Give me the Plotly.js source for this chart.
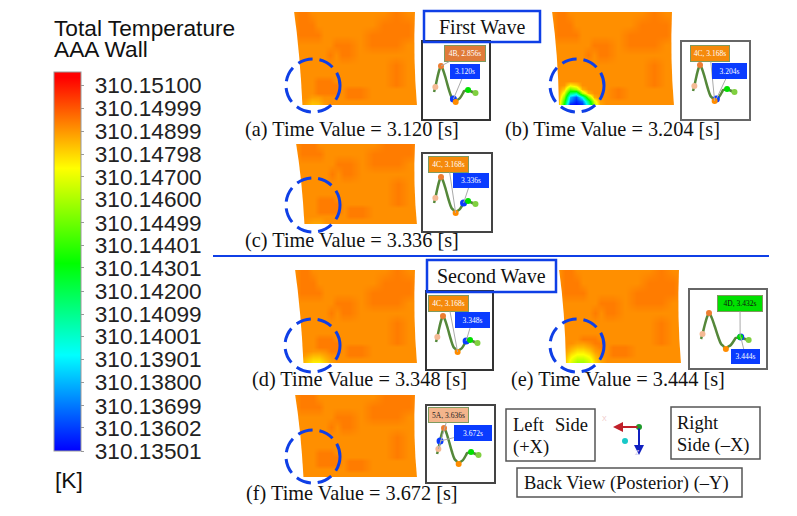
<!DOCTYPE html>
<html>
<head>
<meta charset="utf-8">
<script src="https://cdn.plot.ly/plotly-3.0.1.min.js"></script>
<style>
  html, body { margin: 0; padding: 0; background: #fff; }
  #chart { width: 797px; height: 516px; }
</style>
</head>
<body>
<div id="chart"></div>
<script>
const W = 797, H = 516;
const SERIF = '"Liberation Serif", serif';
const SANS = '"Liberation Sans", sans-serif';

// colour bar
const barTicks = [310.15100, 310.14999, 310.14899, 310.14798, 310.14700, 310.14600, 310.14499, 310.14401,
  310.14301, 310.14200, 310.14099, 310.14001, 310.13901, 310.13800, 310.13699, 310.13602, 310.13501];
const tempMin = 310.13501, tempMax = 310.15157;

// wall temperature, mK above 310 K. rows run bottom to top
const wallX = [0, 6, 12, 18, 24, 30, 36, 42, 48, 54, 66, 78, 90, 102, 114, 124];
const wallY = [0, 4, 8, 12, 16, 20, 24, 30, 40, 50, 60, 70, 80, 94];
const wallBase = [
  [149.1,149.1,149.1,149.1,149.1,149.1,149.1,149.1,149.1,149.1,149.1,149.1,149.1,149.1,149.1,149.1],
  [149.1,149.1,149.1,149.1,149.1,149.1,149.1,149.1,149.1,149.1,149.1,149.1,149.1,149.1,149.1,149.1],
  [149.1,149.1,149.1,149.1,149.1,149.1,149.1,149.1,149.1,149.4,149.4,149.1,149.1,149.1,149.1,149.1],
  [149.1,149.1,149.1,149.1,149.4,149.4,149.4,149.4,149.1,149.4,149.4,149.1,149.1,149.1,149.1,149.1],
  [149.1,149.1,149.1,149.1,149.4,149.4,149.4,149.4,149.1,149.4,149.4,149.1,149.1,149.1,149.1,149.1],
  [149.1,149.1,149.1,149.1,149.4,149.4,149.4,149.4,149.1,149.1,149.1,149.1,149.1,149.4,149.1,149.1],
  [149.1,149.1,149.1,149.1,149.4,149.4,149.4,149.1,149.1,149.1,149.1,149.1,149.1,149.4,149.1,149.1],
  [149.1,149.1,149.1,149.1,149.1,149.1,149.1,149.1,149.1,149.1,149.1,149.1,149.1,149.4,149.1,149.1],
  [149.1,149.1,149.1,149.1,149.1,149.1,149.1,149.1,149.1,149.1,149.1,149.1,149.1,149.4,149.1,149.1],
  [149.1,149.1,149.1,149.1,149.1,149.1,149.4,149.1,149.4,149.4,149.1,149.1,149.1,149.1,149.1,149.1],
  [149.1,149.1,149.1,149.1,149.1,149.1,149.1,149.4,149.4,149.4,149.1,149.4,149.4,149.4,149.1,149.1],
  [149.1,149.4,149.4,149.4,149.4,149.1,149.1,149.1,149.1,149.1,149.1,149.4,149.4,149.4,149.4,149.1],
  [149.1,149.4,149.4,149.4,149.1,149.1,149.1,149.1,149.1,149.1,149.1,149.1,149.4,149.4,149.4,149.1],
  [149.1,149.4,149.4,149.1,149.1,149.1,149.1,149.1,149.1,149.1,149.1,149.1,149.1,149.4,149.1,149.1]
];

// cold spot at the bottom left of each wall, first 8 rows and 10 columns, null keeps wallBase
const spotA = [
  [null,149.1,148.7,148.2,148.3,148.9,149.1,null,null,null],
  [null,149.1,148.9,148.5,148.6,149.0,149.1,null,null,null],
  [null,null,149.1,148.9,148.9,149.1,null,null,null,null]
];
const spotB = [
  [149.1,149.1,143.0,135.2,135.0,135.5,140.0,146.0,148.7,149.1],
  [149.1,149.1,144.0,137.0,135.6,136.8,141.5,146.8,148.9,149.1],
  [149.1,149.1,145.5,138.0,136.3,139.5,145.0,148.6,149.1,149.1],
  [149.1,149.1,147.0,141.5,140.5,146.0,148.5,149.1,149.1,149.1],
  [149.1,149.1,148.2,145.0,146.0,148.6,149.1,149.1,149.1,149.1],
  [149.1,149.1,149.0,147.6,148.1,149.1,149.1,149.1,149.1,149.1],
  [149.1,149.1,149.1,149.1,149.1,149.1,149.1,149.1,149.1,149.1]
];
const spotC = [
  [null,149.1,148.9,148.7,148.7,149.0,149.1,null,null,null],
  [null,149.1,149.0,148.9,148.9,149.1,null,null,null,null]
];
const spotD = [
  [149.1,148.7,148.1,147.5,147.5,148.1,148.8,149.1,null,null],
  [149.1,148.8,148.4,148.0,148.0,148.5,148.9,149.1,null,null],
  [null,149.1,148.8,148.5,148.5,148.8,149.1,null,null,null],
  [null,null,149.1,149.0,149.0,149.1,null,null,null,null]
];
const spotE = [
  [149.1,148.3,146.8,145.8,145.8,146.6,148.0,148.8,149.1,149.1],
  [149.1,148.4,147.2,146.4,146.4,147.0,148.2,148.8,149.1,149.1],
  [149.1,148.7,147.7,147.2,147.2,147.6,148.5,149.1,149.1,null],
  [null,148.9,148.3,147.8,147.8,148.2,148.9,149.1,null,null],
  [null,149.1,148.7,148.4,148.4,148.7,149.1,null,null,null],
  [null,null,149.1,148.9,148.9,149.1,null,null,null,null]
];
const spotF = [];

// inlet waveform of one cycle, time in s and relative flow
const waveTime = [2.708, 2.736, 2.772, 2.82, 2.856, 2.90, 2.96, 3.02, 3.08, 3.12, 3.168, 3.204, 3.26, 3.336, 3.348, 3.40, 3.432, 3.444, 3.50, 3.59];
const waveFlow = [15, 20, 28, 37, 41, 37, 28, 18, 10, 8, 5, 7, 9, 15, 16, 16.5, 17, 17, 15.5, 14];
const phaseTimes = [2.736, 2.856, 3.168, 3.432, 3.59];
const phaseColors = ['#f4b994', '#ed7d31', '#ff8c00', '#00e000', '#80d040'];

// one entry per panel, boxes are [left, top, right, bottom] in pixels
const panels = [
  { name: '(a)', time: '3.120', spot: spotA, wall: [294, 12, 417, 105], ring: [286, 59, 340, 112], capX: 245, capY: 129,
    box: [423, 42, 489, 119], xr: [2.473, 3.877], yr: [-12, 65], now: 3.12, frame: '#333', frameW: 1.5,
    tag: { text: '4B, 2.856s', at: 2.856, bg: '#e07b39', fg: '#fff', box: [445, 46, 485, 61] },
    cur: { box: [450, 64, 480, 79] } },
  { name: '(b)', time: '3.204', spot: spotB, wall: [552, 12, 674, 105], ring: [550, 59, 604, 112], capX: 505, capY: 129,
    box: [682, 42, 749, 119], xr: [2.473, 3.899], yr: [-13, 64], now: 3.204, frame: '#666', frameW: 2,
    tag: { text: '4C, 3.168s', at: 3.168, bg: '#f58a0b', fg: '#fff', box: [691, 46, 729, 61] },
    cur: { box: [712, 63, 747, 79] } },
  { name: '(c)', time: '3.336', spot: spotC, wall: [296, 144, 417, 224], ring: [286, 178, 340, 232], capX: 245, capY: 241,
    box: [423, 154, 491, 231], xr: [2.473, 3.92], yr: [-13, 64], now: 3.336, frame: '#444', frameW: 1.5,
    tag: { text: '4C, 3.168s', at: 3.168, bg: '#f58a0b', fg: '#fff', box: [429, 157, 468, 172] },
    cur: { box: [453, 173, 489, 188] } },
  { name: '(d)', time: '3.348', spot: spotD, wall: [295, 270, 417, 363], ring: [285, 319, 340, 372], capX: 252, capY: 379,
    box: [427, 292, 492, 369], xr: [2.516, 3.899], yr: [-12, 65], now: 3.348, frame: '#333', frameW: 1.5,
    tag: { text: '4C, 3.168s', at: 3.168, bg: '#f58a0b', fg: '#fff', box: [429, 296, 468, 311] },
    cur: { box: [455, 312, 490, 328] } },
  { name: '(e)', time: '3.444', spot: spotE, wall: [559, 270, 681, 363], ring: [550, 319, 604, 372], capX: 511, capY: 379,
    box: [690, 290, 766, 368], xr: [2.504, 3.911], yr: [-14, 64], now: 3.444, frame: '#666', frameW: 2,
    tag: { text: '4D, 3.432s', at: 3.432, bg: '#00e000', fg: '#111', box: [718, 296, 762, 311] },
    cur: { box: [731, 349, 760, 364] } },
  { name: '(f)', time: '3.672', spot: spotF, wall: [295, 395, 417, 477], ring: [286, 430, 340, 483], capX: 246, capY: 493,
    box: [427, 406, 494, 482], xr: [2.494, 3.92], yr: [-13, 63], now: 2.772, frame: '#444', frameW: 1.5,
    tag: { text: '5A, 3.636s', at: 2.736, bg: '#f4b58c', fg: '#222', box: [429, 408, 468, 422] },
    cur: { box: [454, 425, 492, 441] }, curLabel: '3.672s' }
];

const px = v => v / W;
const py = v => 1 - v / H;

const colorscale = [
  [0, '#0000ff'], [0.253, '#00ffff'], [0.495, '#00ff00'], [0.746, '#ffff00'], [0.985, '#ff0000'], [1, '#ff0000']
];

function wallGrid(spot) {
  return wallBase.map((row, r) => row.map((v, c) => {
    const s = spot[r] && spot[r][c];
    return 310 + (s == null ? v : s) / 1000;
  }));
}

const traces = [];
const shapes = [];
const annotations = [];
const layout = {
  width: W, height: H,
  margin: { l: 0, r: 0, t: 0, b: 0 },
  paper_bgcolor: '#fff', plot_bgcolor: '#fff',
  showlegend: false,
  coloraxis: {
    cmin: tempMin, cmax: tempMax, colorscale: colorscale,
    colorbar: {
      x: px(54), xanchor: 'left', xpad: 0,
      y: py(72), yanchor: 'top', ypad: 0,
      lenmode: 'pixels', len: 379,
      thicknessmode: 'pixels', thickness: 27,
      outlinecolor: '#999', outlinewidth: 1,
      tickmode: 'array', tickvals: barTicks, ticktext: barTicks.map(v => ' ' + v.toFixed(5)),
      ticks: 'outside', ticklen: 3, tickcolor: '#999',
      tickfont: { family: SANS, size: 22.6, color: '#222' }
    }
  }
};

function label(text, x, y, size, family, anchor) {
  annotations.push({
    text: text, xref: 'paper', yref: 'paper', x: px(x), y: py(y),
    xanchor: anchor || 'left', yanchor: 'middle', showarrow: false, borderpad: 0, borderwidth: 0,
    font: { family: family, size: size, color: '#111' }
  });
}

function rect(b, color, width) {
  shapes.push({
    type: 'rect', xref: 'paper', yref: 'paper', x0: px(b[0]), y0: py(b[1]), x1: px(b[2]), y1: py(b[3]),
    line: { color: color, width: width }, fillcolor: 'rgba(0,0,0,0)', layer: 'above'
  });
}

function dot(x, y, r, color) {
  shapes.push({
    type: 'circle', xref: 'paper', yref: 'paper', x0: px(x - r), y0: py(y - r), x1: px(x + r), y1: py(y + r),
    line: { width: 0 }, fillcolor: color, layer: 'above'
  });
}

panels.forEach((p, i) => {
  const wallId = i === 0 ? '' : String(i + 1);
  const insetId = String(i + 7);
  const [wl, wt, wr, wb] = p.wall;

  traces.push({
    type: 'heatmap', x: wallX, y: wallY, z: wallGrid(p.spot), zsmooth: 'best',
    xaxis: 'x' + wallId, yaxis: 'y' + wallId,
    coloraxis: 'coloraxis', hoverinfo: 'skip'
  });
  layout['xaxis' + wallId] = { domain: [px(wl), px(wr)], range: [0, wr - wl], visible: false, anchor: 'y' + wallId };
  layout['yaxis' + wallId] = { domain: [py(wb), py(wt)], range: [0, wb - wt], visible: false, anchor: 'x' + wallId };

  // the wall sides are curved, the grid is not: cover the corners with white
  const mid = (wt + wb) / 2;
  const toPaper = (x, y) => px(x) + ',' + py(y);
  shapes.push({
    type: 'path', xref: 'paper', yref: 'paper', layer: 'above', fillcolor: '#fff', line: { width: 0 },
    path: 'M ' + toPaper(wl - 1, wt - 1) + ' L ' + toPaper(wl, wt - 1) +
      ' Q ' + toPaper(wl + 6, mid - 5) + ' ' + toPaper(wl + (i === 1 || i === 4 ? 7 : 8.5), wb + 1) +
      ' L ' + toPaper(wl - 1, wb + 1) + ' Z'
  });
  shapes.push({
    type: 'path', xref: 'paper', yref: 'paper', layer: 'above', fillcolor: '#fff', line: { width: 0 },
    path: 'M ' + toPaper(wr + 1, wt - 1) + ' L ' + toPaper(wr - 2, wt - 1) +
      ' Q ' + toPaper(wr - 4, mid) + ' ' + toPaper(wr, wb + 1) +
      ' L ' + toPaper(wr + 1, wb + 1) + ' Z'
  });

  shapes.push({
    type: 'circle', xref: 'paper', yref: 'paper', layer: 'above',
    x0: px(p.ring[0]), y0: py(p.ring[1]), x1: px(p.ring[2]), y1: py(p.ring[3]),
    line: { color: '#0f3fe6', width: 3, dash: '15px,7px' }, fillcolor: 'rgba(0,0,0,0)'
  });

  label(p.name + ' Time Value = ' + p.time + ' [s]', p.capX, p.capY, 20.3, SERIF);

  // waveform inset
  const xa = 'x' + insetId, ya = 'y' + insetId;
  traces.push({
    type: 'scatter', mode: 'lines', x: waveTime, y: waveFlow, xaxis: xa, yaxis: ya,
    line: { color: '#55883a', width: 2.5, shape: 'spline' }, hoverinfo: 'skip'
  });
  traces.push({
    type: 'scatter', mode: 'markers', x: [p.now], y: [waveFlow[waveTime.indexOf(p.now)]], xaxis: xa, yaxis: ya,
    marker: { color: '#0a3cff', size: 7 }, hoverinfo: 'skip'
  });
  traces.push({
    type: 'scatter', mode: 'markers', x: phaseTimes, y: phaseTimes.map(t => waveFlow[waveTime.indexOf(t)]),
    xaxis: xa, yaxis: ya, marker: { color: phaseColors, size: 6 }, hoverinfo: 'skip'
  });
  const axisBase = {
    showline: true, mirror: true, linecolor: p.frame, linewidth: p.frameW,
    showgrid: false, zeroline: false, ticks: '', showticklabels: false
  };
  layout['xaxis' + insetId] = Object.assign({}, axisBase, {
    domain: [px(p.box[0]), px(p.box[2])], range: p.xr, anchor: ya
  });
  layout['yaxis' + insetId] = Object.assign({}, axisBase, {
    domain: [py(p.box[3]), py(p.box[1])], range: p.yr, anchor: xa
  });

  // callouts, with a grey leader to the point on the curve
  const tagOf = (text, at, bg, fg, b, border) => {
    const tx = p.box[0] + (at - p.xr[0]) / (p.xr[1] - p.xr[0]) * (p.box[2] - p.box[0]);
    const flow = waveFlow[waveTime.indexOf(at)];
    const ty = p.box[3] - (flow - p.yr[0]) / (p.yr[1] - p.yr[0]) * (p.box[3] - p.box[1]);
    annotations.push({
      text: text, xref: xa, yref: ya, x: at, y: flow,
      ax: (b[0] + b[2]) / 2 - tx, ay: (b[1] + b[3]) / 2 - ty,
      xanchor: 'center', yanchor: 'middle',
      width: b[2] - b[0], height: b[3] - b[1], borderpad: 0,
      bgcolor: bg, bordercolor: border, borderwidth: border === bg ? 0 : 1,
      showarrow: true, arrowhead: 0, arrowwidth: 1, arrowcolor: '#aaa',
      font: { family: SERIF, size: 7.5, color: fg }
    });
  };
  tagOf(p.tag.text, p.tag.at, p.tag.bg, p.tag.fg, p.tag.box, '#7f9a5f');
  tagOf(p.curLabel || p.time + 's', p.now, '#0a3cff', '#fff', p.cur.box, '#0a3cff');
});

// colour bar heading
label('Total Temperature', 54, 28, 22.7, SANS);
label('AAA Wall', 54, 49, 22.7, SANS);
label('[K]', 55, 480, 22.7, SANS);

// wave headings and divider
rect([424, 11, 540, 42], '#0f3fe6', 2.5);
label('First Wave', 482, 27, 20, SERIF, 'center');
rect([427, 260, 556, 292], '#0f3fe6', 2.5);
label('Second Wave', 491, 276, 20, SERIF, 'center');
shapes.push({
  type: 'line', xref: 'paper', yref: 'paper', x0: px(213), y0: py(256), x1: px(769), y1: py(256),
  line: { color: '#0f3fe6', width: 2 }, layer: 'above'
});

// orientation key
rect([506, 409, 595, 461], '#555', 1.5);
label('Left', 513, 425, 18.5, SERIF);
label('Side', 555, 425, 18.5, SERIF);
label('(+X)', 513, 447, 18.5, SERIF);
rect([671, 407, 760, 459], '#555', 1.5);
label('Right', 677, 423, 18.5, SERIF);
label('Side (–X)', 677, 445, 18.5, SERIF);
rect([517, 468, 742, 497], '#555', 1.5);
label('Back View (Posterior) (–Y)', 524, 483, 18.5, SERIF);

annotations.push({
  text: '', xref: 'paper', yref: 'paper', x: px(613), y: py(427), ax: 26, ay: 0,
  showarrow: true, arrowhead: 2, arrowsize: 1, arrowwidth: 2, arrowcolor: '#c0202a'
});
annotations.push({
  text: '', xref: 'paper', yref: 'paper', x: px(639), y: py(455), ax: 0, ay: -28,
  showarrow: true, arrowhead: 2, arrowsize: 1, arrowwidth: 2, arrowcolor: '#1020c0'
});
dot(639, 427, 3, '#1e9a2a');
dot(625, 441, 3, '#18c8c8');
annotations.push({
  text: 'X', xref: 'paper', yref: 'paper', x: px(609), y: py(424), showarrow: false,
  font: { family: SANS, size: 7, color: '#f0c8c8' }
});
annotations.push({
  text: 'Z', xref: 'paper', yref: 'paper', x: px(642), y: py(458), showarrow: false,
  font: { family: SANS, size: 7, color: '#c8c8f0' }
});

layout.shapes = shapes;
layout.annotations = annotations;

Plotly.newPlot('chart', traces, layout, { displayModeBar: false, responsive: false });
</script>
</body>
</html>
